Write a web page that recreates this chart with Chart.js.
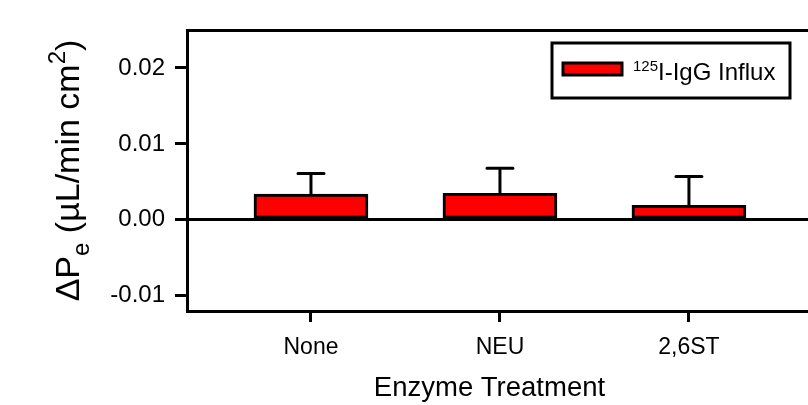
<!DOCTYPE html>
<html>
<head>
<meta charset="utf-8">
<script src="https://cdn.jsdelivr.net/npm/chart.js@4.4.0/dist/chart.umd.min.js"></script>
<style>
  html, body { margin: 0; padding: 0; background: #fff; overflow: hidden; }
  #wrap { width: 808px; height: 405px; position: relative; }
</style>
</head>
<body>
<div id="wrap"><canvas id="chart"></canvas></div>
<script>
// data
const categories = ['None', 'NEU', '2,6ST'];
const xPositions = [1, 2, 3];
const influx = [0.0034, 0.0035, 0.0019];
const influxErr = [0.0027, 0.0033, 0.0038];
const yTicks = [-0.01, 0, 0.01, 0.02];
const yTickLabels = ['-0.01', '0.00', '0.01', '0.02'];
const seriesIsotope = '125';
const seriesLabel = 'I-IgG Influx';
const xTitle = 'Enzyme Treatment';

const FONT = '"Liberation Sans", Arial, sans-serif';
const LW = 3;

// error bars (upper whisker only, the bar hides the lower one)
const errorBars = {
  id: 'errorBars',
  afterDatasetsDraw(chart) {
    const { ctx, scales: { x, y } } = chart;
    ctx.save();
    ctx.strokeStyle = '#000';
    ctx.lineWidth = LW;
    ctx.lineCap = 'round';
    influx.forEach((v, i) => {
      const px = x.getPixelForValue(xPositions[i]);
      const y0 = y.getPixelForValue(v);
      const y1 = y.getPixelForValue(v + influxErr[i]);
      ctx.beginPath();
      ctx.moveTo(px, y0);
      ctx.lineTo(px, y1);
      ctx.moveTo(px - 13, y1);
      ctx.lineTo(px + 13, y1);
      ctx.stroke();
    });
    ctx.restore();
  }
};

// boxed legend in the top right of the plot
const boxLegend = {
  id: 'boxLegend',
  afterDraw(chart) {
    const { ctx, chartArea: a } = chart;
    const ds = chart.data.datasets[0];
    const w = 238, h = 55;
    const left = a.right - 18 - w, top = a.top + 13;
    ctx.save();
    ctx.lineWidth = LW;
    ctx.strokeStyle = '#000';
    ctx.fillStyle = '#fff';
    ctx.fillRect(left, top, w, h);
    ctx.strokeRect(left, top, w, h);
    ctx.fillStyle = ds.backgroundColor;
    ctx.fillRect(left + 11, top + 20, 59, 12);
    ctx.strokeRect(left + 11, top + 20, 59, 12);
    ctx.fillStyle = '#000';
    ctx.textBaseline = 'alphabetic';
    ctx.textAlign = 'left';
    let tx = left + 81;
    const base = top + 37;
    ctx.font = '15px ' + FONT;
    ctx.fillText(seriesIsotope, tx, base - 9);
    tx += ctx.measureText(seriesIsotope).width;
    ctx.font = '24px ' + FONT;
    ctx.fillText(seriesLabel, tx, base);
    ctx.restore();
  }
};

// axis titles: y one with subscript / superscript, x one a little left of centre
const axisTitles = {
  id: 'axisTitles',
  afterDraw(chart) {
    const { ctx, chartArea: a } = chart;
    const big = '34px ' + FONT, small = '24px ' + FONT;
    const parts = [
      { t: '\u0394P', f: big, dy: 0 },
      { t: 'e', f: small, dy: 10 },
      { t: ' (\u00b5L/min cm', f: big, dy: 0 },
      { t: '2', f: small, dy: -14 },
      { t: ')', f: big, dy: 0 }
    ];
    ctx.save();
    let total = 0;
    parts.forEach(p => { ctx.font = p.f; p.w = ctx.measureText(p.t).width; total += p.w; });
    ctx.translate(79, (a.top + a.bottom) / 2);
    ctx.rotate(-Math.PI / 2);
    ctx.fillStyle = '#000';
    ctx.textBaseline = 'alphabetic';
    ctx.textAlign = 'left';
    let x = -total / 2;
    parts.forEach(p => { ctx.font = p.f; ctx.fillText(p.t, x, p.dy); x += p.w; });
    ctx.restore();

    ctx.save();
    ctx.fillStyle = '#000';
    ctx.font = '27.5px ' + FONT;
    ctx.textAlign = 'center';
    ctx.textBaseline = 'middle';
    ctx.fillText(xTitle, (a.left + a.right) / 2 - 8, chart.height - 17);
    ctx.restore();
  }
};

Chart.defaults.color = '#000';
Chart.defaults.font.family = FONT;

new Chart(document.getElementById('chart').getContext('2d'), {
  type: 'bar',
  data: {
    datasets: [{
      label: seriesIsotope + seriesLabel,
      data: xPositions.map((x, i) => ({ x: x, y: influx[i] })),
      backgroundColor: '#ff0000',
      borderColor: '#000',
      borderWidth: LW,
      borderSkipped: false,
      barThickness: 114
    }]
  },
  options: {
    responsive: true,
    maintainAspectRatio: false,
    animation: false,
    layout: { padding: 0 },
    plugins: { legend: { display: false }, tooltip: { enabled: false } },
    scales: {
      x: {
        type: 'linear',
        position: 'bottom',
        min: 0.344,
        max: 3.63,
        offset: false,
        afterBuildTicks: (axis) => { axis.ticks = xPositions.map(v => ({ value: v })); },
        afterFit: (axis) => { axis.height = 94; },
        ticks: {
          font: { size: 23 },
          padding: 12,
          maxRotation: 0,
          autoSkip: false,
          callback: (v) => categories[xPositions.indexOf(v)]
        },
        grid: { offset: false, drawOnChartArea: false, drawTicks: true, tickLength: 11, lineWidth: LW, color: '#000', tickColor: '#000' },
        border: { display: true, color: '#000', width: LW }
      },
      xTop: {
        type: 'linear',
        position: 'top',
        min: 0,
        max: 1,
        afterFit: (axis) => { axis.height = 30; },
        ticks: { display: false },
        grid: { display: false, drawTicks: false },
        border: { display: true, color: '#000', width: LW }
      },
      y: {
        type: 'linear',
        position: 'left',
        min: -0.012,
        max: 0.025,
        afterBuildTicks: (axis) => { axis.ticks = yTicks.map(v => ({ value: v })); },
        afterFit: (axis) => { axis.width = 187; },
        ticks: {
          font: { size: 24 },
          padding: 10,
          callback: (v, i) => yTickLabels[i]
        },
        grid: {
          drawOnChartArea: true,
          drawTicks: true,
          tickLength: 12,
          lineWidth: LW,
          tickColor: '#000',
          color: (c) => (c.tick && c.tick.value === 0 ? '#000' : 'rgba(0,0,0,0)')
        },
        border: { display: true, color: '#000', width: LW }
      }
    }
  },
  plugins: [errorBars, boxLegend, axisTitles]
});
</script>
</body>
</html>
